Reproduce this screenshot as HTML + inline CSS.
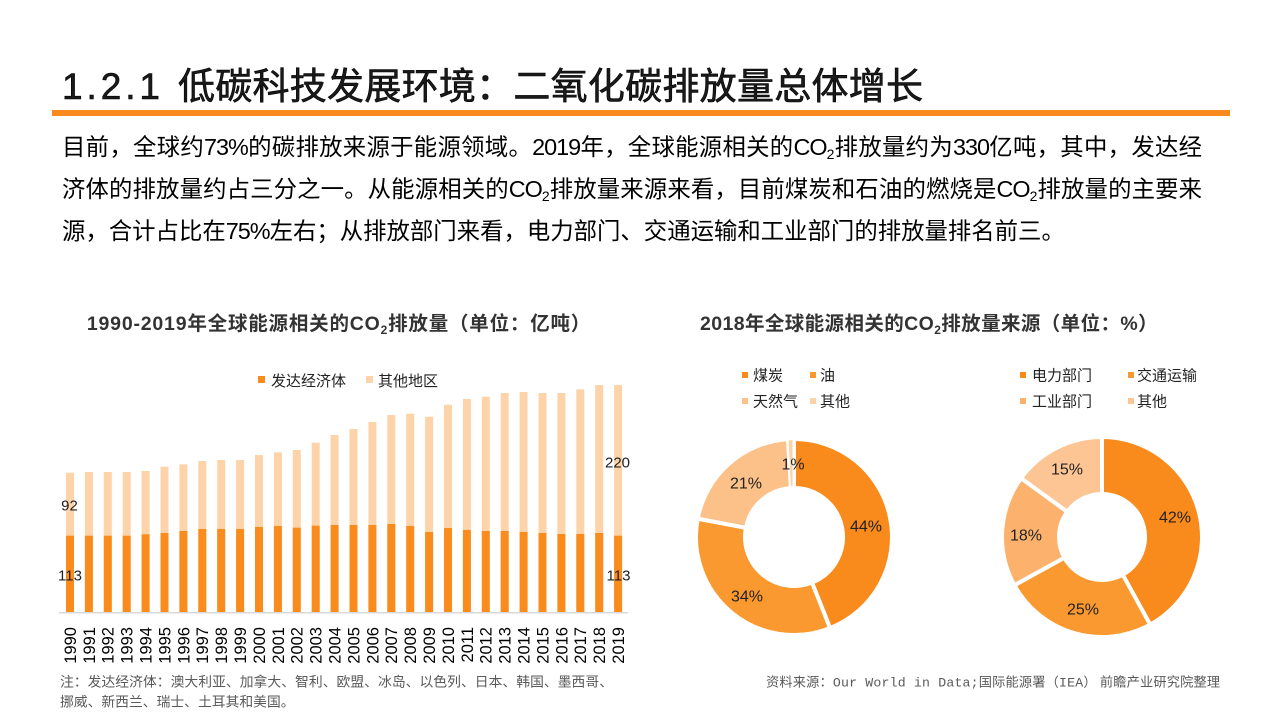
<!DOCTYPE html>
<html>
<head>
<meta charset="utf-8">
<style>
html,body{margin:0;padding:0;}
body{width:1280px;height:720px;overflow:hidden;background:#fff;position:relative;font-family:"Liberation Sans","Noto Sans CJK SC",sans-serif;}
.p{position:absolute;left:62px;width:1140px;font-size:23.4px;line-height:30px;height:30px;color:#000;white-space:nowrap;}
.j{text-align:justify;text-align-last:justify;}
.n{letter-spacing:-1px;}
sub{font-size:14px;vertical-align:-4px;line-height:0;}
svg{position:absolute;left:0;top:0;}
</style>
</head>
<body>
<svg width="1280" height="720" viewBox="0 0 1280 720" xmlns="http://www.w3.org/2000/svg">
  <!-- Main title -->
  <text x="62" y="99" font-size="37" font-family="Liberation Sans, sans-serif" fill="#1a1a1a" stroke="#000" stroke-width="0.6" textLength="98" lengthAdjust="spacing">1.2.1</text>
  <text x="178" y="99" font-size="37" font-family="Noto Sans CJK SC, sans-serif" fill="#1a1a1a" stroke="#000" stroke-width="0.6" textLength="745" lengthAdjust="spacing">低碳科技发展环境：二氧化碳排放量总体增长</text>
  <rect x="52" y="110" width="1178" height="6" fill="#F98B1E"/>

  <!-- Chart 1 title -->
  <text x="339" y="330" text-anchor="middle" font-size="19.5" font-weight="bold" letter-spacing="0.8" fill="#333" font-family="Liberation Sans, Noto Sans CJK SC, sans-serif">1990-2019年全球能源相关的CO<tspan font-size="12" dy="4">2</tspan><tspan dy="-4">排放量（单位：亿吨）</tspan></text>

  <!-- Chart 1 legend -->
  <rect x="258" y="376" width="7" height="7" fill="#FA8C1E"/>
  <text x="271" y="386" font-size="15" fill="#222" font-family="Noto Sans CJK SC, sans-serif">发达经济体</text>
  <rect x="366" y="376" width="7" height="7" fill="#FDD3A9"/>
  <text x="378" y="386" font-size="15" fill="#222" font-family="Noto Sans CJK SC, sans-serif">其他地区</text>

  <!-- Bars: other (light) -->
  <g fill="#FDD3A9">
    <rect x="66.0" y="472.7" width="8" height="139.3"/>
    <rect x="84.9" y="472" width="8" height="140"/>
    <rect x="103.8" y="472" width="8" height="140"/>
    <rect x="122.7" y="472" width="8" height="140"/>
    <rect x="141.6" y="471" width="8" height="141"/>
    <rect x="160.5" y="466.7" width="8" height="145.3"/>
    <rect x="179.4" y="464.3" width="8" height="147.7"/>
    <rect x="198.3" y="461" width="8" height="151"/>
    <rect x="217.2" y="460" width="8" height="152"/>
    <rect x="236.1" y="460" width="8" height="152"/>
    <rect x="255.0" y="455" width="8" height="157"/>
    <rect x="273.9" y="452.3" width="8" height="159.7"/>
    <rect x="292.8" y="450" width="8" height="162"/>
    <rect x="311.7" y="442.7" width="8" height="169.3"/>
    <rect x="330.6" y="435" width="8" height="177"/>
    <rect x="349.5" y="429" width="8" height="183"/>
    <rect x="368.4" y="422" width="8" height="190"/>
    <rect x="387.3" y="415" width="8" height="197"/>
    <rect x="406.2" y="413.7" width="8" height="198.3"/>
    <rect x="425.1" y="416.7" width="8" height="195.3"/>
    <rect x="444.0" y="404.7" width="8" height="207.3"/>
    <rect x="462.9" y="399" width="8" height="213"/>
    <rect x="481.8" y="396.7" width="8" height="215.3"/>
    <rect x="500.7" y="393" width="8" height="219"/>
    <rect x="519.6" y="392" width="8" height="220"/>
    <rect x="538.5" y="393" width="8" height="219"/>
    <rect x="557.4" y="393" width="8" height="219"/>
    <rect x="576.3" y="389.3" width="8" height="222.7"/>
    <rect x="595.2" y="385" width="8" height="227"/>
    <rect x="614.1" y="385" width="8" height="227"/>
  </g>
  <!-- Bars: developed (orange) -->
  <g fill="#FA8C1E">
    <rect x="66.0" y="535.7" width="8" height="76.3"/>
    <rect x="84.9" y="535.7" width="8" height="76.3"/>
    <rect x="103.8" y="535.7" width="8" height="76.3"/>
    <rect x="122.7" y="535.7" width="8" height="76.3"/>
    <rect x="141.6" y="534.3" width="8" height="77.7"/>
    <rect x="160.5" y="533" width="8" height="79"/>
    <rect x="179.4" y="531" width="8" height="81"/>
    <rect x="198.3" y="529" width="8" height="83"/>
    <rect x="217.2" y="529" width="8" height="83"/>
    <rect x="236.1" y="529" width="8" height="83"/>
    <rect x="255.0" y="527" width="8" height="85"/>
    <rect x="273.9" y="526" width="8" height="86"/>
    <rect x="292.8" y="527.7" width="8" height="84.3"/>
    <rect x="311.7" y="525.7" width="8" height="86.3"/>
    <rect x="330.6" y="525" width="8" height="87"/>
    <rect x="349.5" y="525" width="8" height="87"/>
    <rect x="368.4" y="525" width="8" height="87"/>
    <rect x="387.3" y="524" width="8" height="88"/>
    <rect x="406.2" y="526" width="8" height="86"/>
    <rect x="425.1" y="532" width="8" height="80"/>
    <rect x="444.0" y="528" width="8" height="84"/>
    <rect x="462.9" y="530" width="8" height="82"/>
    <rect x="481.8" y="531" width="8" height="81"/>
    <rect x="500.7" y="531" width="8" height="81"/>
    <rect x="519.6" y="532" width="8" height="80"/>
    <rect x="538.5" y="533" width="8" height="79"/>
    <rect x="557.4" y="534" width="8" height="78"/>
    <rect x="576.3" y="534" width="8" height="78"/>
    <rect x="595.2" y="533" width="8" height="79"/>
    <rect x="614.1" y="535.7" width="8" height="76.3"/>
  </g>
  <!-- axis -->
  <rect x="59" y="612" width="569" height="1.5" fill="#D9D9D9"/>

  <!-- bar labels -->
  <g font-size="15" fill="#222" font-family="Liberation Sans, sans-serif" text-anchor="middle">
    <text x="69.5" y="510.5">92</text>
    <text x="70" y="580.5">113</text>
    <text x="617.5" y="467.5">220</text>
    <text x="618.5" y="580.5">113</text>
  </g>

  <!-- year labels -->
  <g font-size="16.5" fill="#000" font-family="Liberation Sans, sans-serif" text-anchor="end">
    <text transform="translate(75.9,627) rotate(-90)">1990</text>
    <text transform="translate(94.8,627) rotate(-90)">1991</text>
    <text transform="translate(113.7,627) rotate(-90)">1992</text>
    <text transform="translate(132.6,627) rotate(-90)">1993</text>
    <text transform="translate(151.5,627) rotate(-90)">1994</text>
    <text transform="translate(170.4,627) rotate(-90)">1995</text>
    <text transform="translate(189.3,627) rotate(-90)">1996</text>
    <text transform="translate(208.2,627) rotate(-90)">1997</text>
    <text transform="translate(227.1,627) rotate(-90)">1998</text>
    <text transform="translate(246,627) rotate(-90)">1999</text>
    <text transform="translate(264.9,627) rotate(-90)">2000</text>
    <text transform="translate(283.8,627) rotate(-90)">2001</text>
    <text transform="translate(302.7,627) rotate(-90)">2002</text>
    <text transform="translate(321.6,627) rotate(-90)">2003</text>
    <text transform="translate(340.5,627) rotate(-90)">2004</text>
    <text transform="translate(359.4,627) rotate(-90)">2005</text>
    <text transform="translate(378.3,627) rotate(-90)">2006</text>
    <text transform="translate(397.2,627) rotate(-90)">2007</text>
    <text transform="translate(416.1,627) rotate(-90)">2008</text>
    <text transform="translate(435,627) rotate(-90)">2009</text>
    <text transform="translate(453.9,627) rotate(-90)">2010</text>
    <text transform="translate(472.8,627) rotate(-90)">2011</text>
    <text transform="translate(491.7,627) rotate(-90)">2012</text>
    <text transform="translate(510.6,627) rotate(-90)">2013</text>
    <text transform="translate(529.5,627) rotate(-90)">2014</text>
    <text transform="translate(548.4,627) rotate(-90)">2015</text>
    <text transform="translate(567.3,627) rotate(-90)">2016</text>
    <text transform="translate(586.2,627) rotate(-90)">2017</text>
    <text transform="translate(605.1,627) rotate(-90)">2018</text>
    <text transform="translate(624,627) rotate(-90)">2019</text>
  </g>

  <!-- footnote -->
  <text x="60" y="686.5" font-size="13.8" fill="#595959" font-family="Noto Sans CJK SC, sans-serif" textLength="553" lengthAdjust="spacing">注：发达经济体：澳大利亚、加拿大、智利、欧盟、冰岛、以色列、日本、韩国、墨西哥、</text>
  <text x="60" y="706.5" font-size="13.8" fill="#595959" font-family="Noto Sans CJK SC, sans-serif">挪威、新西兰、瑞士、土耳其和美国。</text>

  <!-- Chart 2 title -->
  <text x="929" y="330" text-anchor="middle" font-size="19.5" font-weight="bold" letter-spacing="0.4" fill="#333" font-family="Liberation Sans, Noto Sans CJK SC, sans-serif">2018年全球能源相关的CO<tspan font-size="12" dy="4">2</tspan><tspan dy="-4">排放量来源（单位：%）</tspan></text>

  <!-- Donut 1 legend -->
  <g font-size="15" fill="#222" font-family="Noto Sans CJK SC, sans-serif">
    <rect x="742" y="372" width="6" height="6" fill="#F98A1C"/>
    <text x="753" y="380.5">煤炭</text>
    <rect x="810" y="372" width="6" height="6" fill="#FA992F"/>
    <text x="820" y="380.5">油</text>
    <rect x="742" y="398" width="6" height="6" fill="#FCC089"/>
    <text x="753" y="406.5">天然气</text>
    <rect x="810" y="398" width="6" height="6" fill="#FDD2A6"/>
    <text x="820" y="406.5">其他</text>
  </g>

  <!-- Donut 1 -->
  <g stroke="#fff" stroke-width="4" stroke-linejoin="miter">
    <path d="M794,439 A98,98 0 0 1 830.07,628.12 L812.04,582.56 A49,49 0 0 0 794,488 Z" fill="#F98A1C"/>
    <path d="M830.07,628.12 A98,98 0 0 1 697.73,518.63 L745.87,527.82 A49,49 0 0 0 812.04,582.56 Z" fill="#FA992F"/>
    <path d="M697.73,518.63 A98,98 0 0 1 787.85,439.20 L790.92,488.10 A49,49 0 0 0 745.87,527.82 Z" fill="#FCC089"/>
  </g>
  <path d="M788.6,440.5 A97,97 0 0 1 792.5,440.2 L792.6,486 A50,50 0 0 0 790.9,486.1 Z" fill="#FDD2A6"/>
  <g font-size="16" fill="#222" font-family="Liberation Sans, sans-serif" text-anchor="middle">
    <text x="866" y="531.5">44%</text>
    <text x="747" y="601.5">34%</text>
    <text x="746" y="488.5">21%</text>
    <text x="793" y="469.5">1%</text>
  </g>

  <!-- Donut 2 legend -->
  <g font-size="15" fill="#222" font-family="Noto Sans CJK SC, sans-serif">
    <rect x="1020" y="372" width="6" height="6" fill="#F98A1C"/>
    <text x="1032" y="380.5">电力部门</text>
    <rect x="1128" y="372" width="6" height="6" fill="#FA992F"/>
    <text x="1137" y="380.5">交通运输</text>
    <rect x="1020" y="398" width="6" height="6" fill="#FCB26D"/>
    <text x="1032" y="406.5">工业部门</text>
    <rect x="1128" y="398" width="6" height="6" fill="#FDC594"/>
    <text x="1137" y="406.5">其他</text>
  </g>

  <!-- Donut 2 -->
  <g stroke="#fff" stroke-width="4" stroke-linejoin="miter">
    <path d="M1102,437 A100,100 0 0 1 1150.18,624.63 L1122.72,574.68 A43,43 0 0 0 1102,494 Z" fill="#F98A1C"/>
    <path d="M1150.18,624.63 A100,100 0 0 1 1014.37,585.18 L1064.32,557.72 A43,43 0 0 0 1122.72,574.68 Z" fill="#FA992F"/>
    <path d="M1014.37,585.18 A100,100 0 0 1 1021.10,478.22 L1067.21,511.72 A43,43 0 0 0 1064.32,557.72 Z" fill="#FCB26D"/>
    <path d="M1021.10,478.22 A100,100 0 0 1 1102,437 L1102,494 A43,43 0 0 0 1067.21,511.72 Z" fill="#FDC594"/>
  </g>
  <g font-size="16" fill="#222" font-family="Liberation Sans, sans-serif" text-anchor="middle">
    <text x="1175" y="522.5">42%</text>
    <text x="1083" y="614.5">25%</text>
    <text x="1026" y="540.5">18%</text>
    <text x="1067" y="474.5">15%</text>
  </g>

  <!-- Source -->
  <text x="766" y="686.5" font-size="13.2" fill="#595959" font-family="Noto Sans CJK SC, sans-serif" textLength="454" lengthAdjust="spacing">资料来源：<tspan font-family="Liberation Mono, monospace">Our World in Data;</tspan>国际能源署（<tspan font-family="Liberation Mono, monospace">IEA</tspan>） 前瞻产业研究院整理</text>
</svg>

<div class="p j" style="top:132px;">目前，全球约<span class="n">73%</span>的碳排放来源于能源领域。<span class="n">2019</span>年，全球能源相关的<span class="n">CO</span><sub>2</sub>排放量约为<span class="n">330</span>亿吨，其中，发达经</div>
<div class="p j" style="top:174px;">济体的排放量约占三分之一。从能源相关的<span class="n">CO</span><sub>2</sub>排放量来源来看，目前煤炭和石油的燃烧是<span class="n">CO</span><sub>2</sub>排放量的主要来</div>
<div class="p" style="top:216px;">源，合计占比在<span class="n">75%</span>左右；从排放部门来看，电力部门、交通运输和工业部门的排放量排名前三。</div>
</body>
</html>
